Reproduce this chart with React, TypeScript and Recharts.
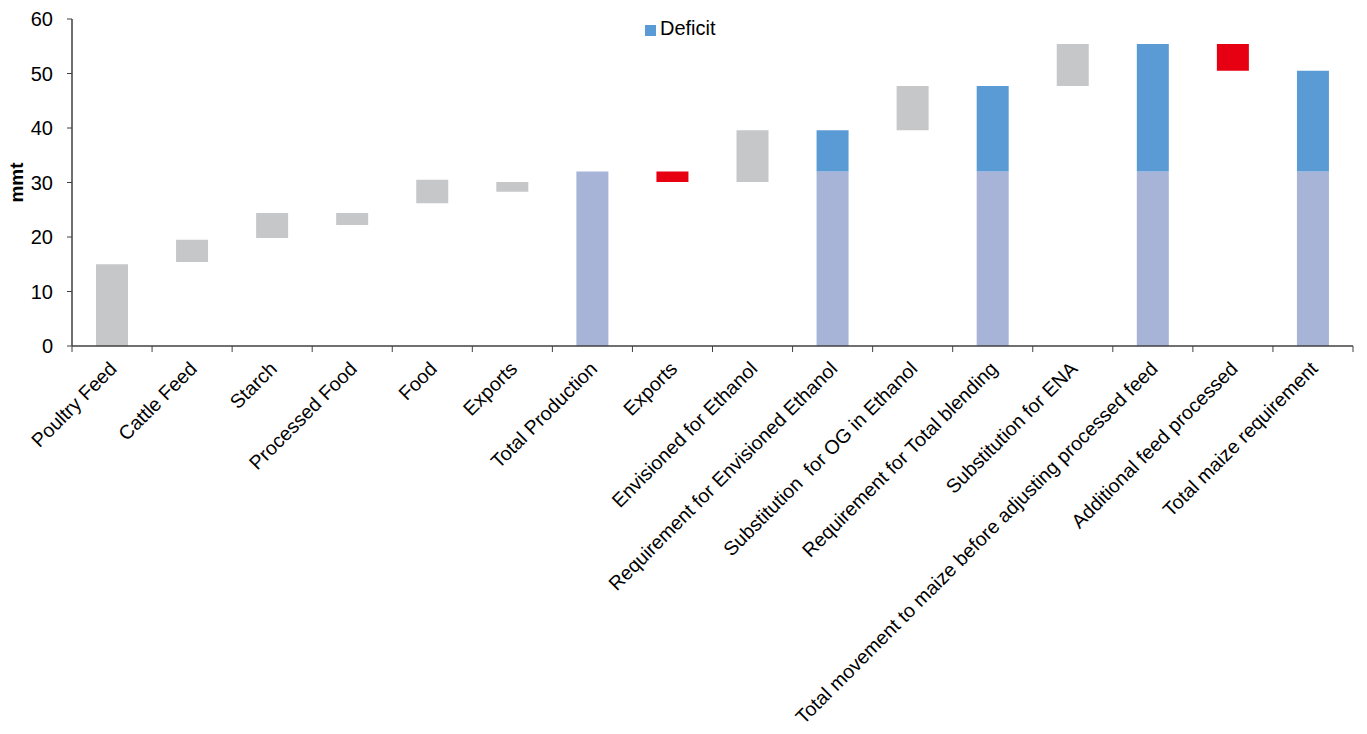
import { BarChart, Bar, XAxis, YAxis, Legend } from 'recharts'

const categories = [
  'Poultry Feed',
  'Cattle Feed',
  'Starch',
  'Processed Food',
  'Food',
  'Exports',
  'Total Production',
  'Exports',
  'Envisioned for Ethanol',
  'Requirement for Envisioned Ethanol',
  'Substitution  for OG in Ethanol',
  'Requirement for Total blending',
  'Substitution for ENA',
  'Total movement to maize before adjusting processed feed',
  'Additional feed processed',
  'Total maize requirement',
]

// invisible offset under the floating bars
const base = [0, 15.4, 19.8, 22.2, 26.2, 28.3, 0, 30.1, 30.1, 0, 39.6, 0, 47.7, 0, 50.5, 0]
const usage = [15, 4.1, 4.6, 2.2, 4.3, 1.8, 0, 0, 9.5, 0, 8.1, 0, 7.7, 0, 0, 0]
const reduction = [0, 0, 0, 0, 0, 0, 0, 1.9, 0, 0, 0, 0, 0, 0, 4.9, 0]
const production = [0, 0, 0, 0, 0, 0, 32, 0, 0, 32, 0, 32, 0, 32, 0, 32]
const deficit = [0, 0, 0, 0, 0, 0, 0, 0, 0, 7.6, 0, 15.7, 0, 23.4, 0, 18.5]

const yTicks = [0, 10, 20, 30, 40, 50, 60]

const data = categories.map((name, i) => ({
  key: `${i}`,
  name,
  base: base[i],
  usage: usage[i],
  reduction: reduction[i],
  production: production[i],
  deficit: deficit[i],
}))

const W = 1367
const H = 734
const margin = { top: 19, right: 14, left: 8, bottom: 0 }
const yAxisWidth = 64
const band = (W - margin.left - margin.right - yAxisWidth) / categories.length

// label plus Excel-style tick marks on the category boundaries
function CategoryTick({ x, y, payload, index }: any) {
  const label = categories[Number(payload.value)]
  const last = index === categories.length - 1
  return (
    <g>
      <line x1={x - band / 2} x2={x - band / 2} y1={y} y2={y + 6} stroke="#404040" />
      {last && <line x1={x + band / 2} x2={x + band / 2} y1={y} y2={y + 6} stroke="#404040" />}
      <g transform={`translate(${x + 6},${y + 24})`}>
        <text
          x={0}
          y={0}
          textAnchor="end"
          transform="rotate(-45)"
          fontSize={19.6}
          fill="#000"
          style={{ whiteSpace: 'pre' }}
        >
          {label}
        </text>
      </g>
    </g>
  )
}

export default function App() {
  return (
    <div
      style={{
        position: 'absolute',
        left: 0,
        top: 0,
        background: '#fff',
        fontFamily: '"Liberation Sans", Arial, sans-serif',
      }}
    >
      <BarChart width={W} height={H} data={data} margin={margin} barSize={32}>
        <XAxis
          dataKey="key"
          interval={0}
          tickLine={false}
          tickSize={0}
          tickMargin={0}
          axisLine={{ stroke: '#404040', strokeWidth: 1.5 }}
          tick={<CategoryTick />}
          height={388}
        />
        <YAxis
          domain={[0, 60]}
          ticks={yTicks}
          width={yAxisWidth}
          tickSize={5}
          tickMargin={14}
          axisLine={{ stroke: '#404040', strokeWidth: 1.5 }}
          tickLine={{ stroke: '#404040' }}
          tick={{ fill: '#000', fontSize: 20 }}
          label={{
            value: 'mmt',
            angle: -90,
            position: 'insideLeft',
            offset: 8,
            style: { fontWeight: 'bold', fontSize: 19, fill: '#000', textAnchor: 'middle' },
          }}
        />
        <Legend
          verticalAlign="middle"
          align="center"
          iconType="square"
          iconSize={11}
          formatter={(v) => <span style={{ color: '#000', fontSize: 20 }}>{v}</span>}
          wrapperStyle={{ top: 17, left: 645, width: 'auto', height: 'auto' }}
        />
        <Bar dataKey="base" stackId="w" fill="transparent" legendType="none" isAnimationActive={false} />
        <Bar dataKey="usage" stackId="w" fill="#C6C7C8" legendType="none" isAnimationActive={false} />
        <Bar dataKey="reduction" stackId="w" fill="#E60012" legendType="none" isAnimationActive={false} />
        <Bar dataKey="production" stackId="w" fill="#A8B3D8" legendType="none" isAnimationActive={false} />
        <Bar dataKey="deficit" name="Deficit" stackId="w" fill="#5B9BD5" isAnimationActive={false} />
      </BarChart>
    </div>
  )
}
